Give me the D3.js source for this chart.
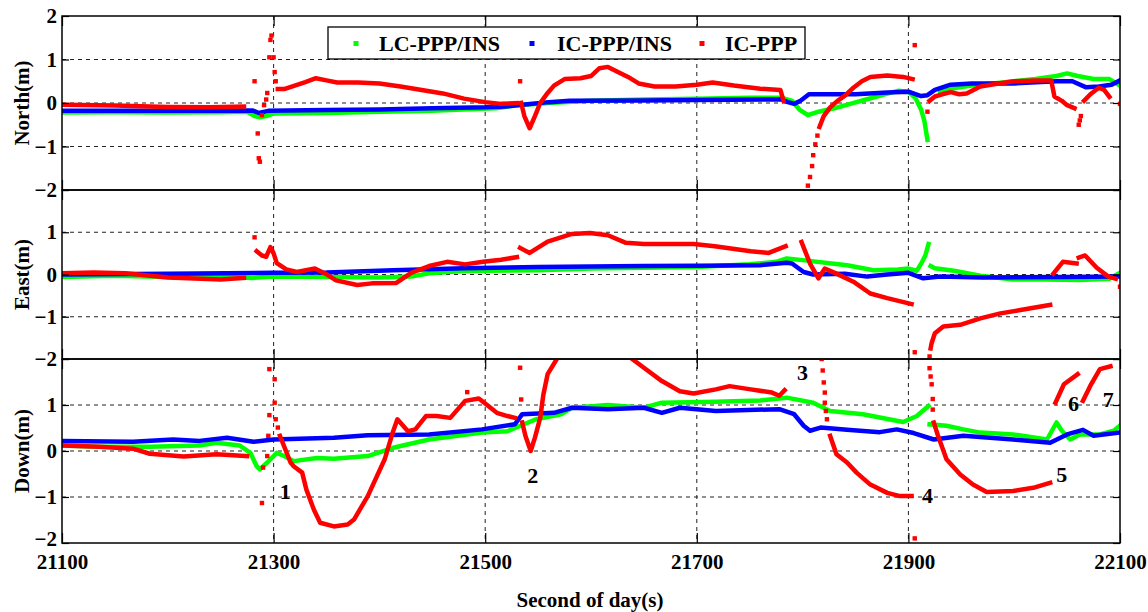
<!DOCTYPE html>
<html><head><meta charset="utf-8">
<script src="https://cdn.jsdelivr.net/npm/d3@7"></script>
<style>body{margin:0;background:#fff}</style>
</head><body><svg id="c" width="1148" height="612"></svg>
<script>
// ---------------- DATA ----------------
const xTicks = [21100, 21300, 21500, 21700, 21900, 22100];
const yTicks = [2, 1, 0, -1, -2];
const gridX = [21300, 21500, 21700, 21900];
const gridY = [1, 0, -1];
const panelTitles = ["North(m)", "East(m)", "Down(m)"];
const seriesNames = ["LC-PPP/INS", "IC-PPP/INS", "IC-PPP"];
const xTitle = "Second of day(s)";

// North
const northLC = [
 [[21100,-0.22],[21150,-0.21],[21200,-0.22],[21250,-0.21],[21275,-0.2],[21282,-0.3],[21287,-0.33],[21293,-0.3],[21300,-0.24],[21350,-0.23],[21400,-0.2],[21450,-0.18],[21490,-0.14],[21510,-0.12],[21530,-0.05],[21560,0.0],[21600,0.05],[21650,0.08],[21700,0.1],[21750,0.12],[21780,0.12],[21790,0.05],[21797,-0.15],[21805,-0.28],[21815,-0.2],[21830,-0.12],[21845,-0.02],[21860,0.08],[21875,0.18],[21890,0.28],[21900,0.26],[21907,0.1],[21912,-0.15],[21915,-0.4],[21918,-0.85]],
 [[21930,0.25],[21945,0.35],[21960,0.4],[21980,0.45],[22000,0.5],[22020,0.55],[22040,0.62],[22050,0.68],[22060,0.62],[22075,0.55],[22090,0.55],[22100,0.4]]
];
const northIC = [
 [[21100,-0.18],[21200,-0.18],[21280,-0.17],[21286,-0.23],[21295,-0.18],[21350,-0.16],[21400,-0.15],[21450,-0.12],[21500,-0.1],[21520,-0.08],[21540,-0.03],[21560,0.02],[21580,0.05],[21650,0.06],[21700,0.07],[21780,0.08],[21786,0.02],[21792,-0.02],[21798,0.05],[21806,0.2],[21850,0.2],[21880,0.24],[21900,0.26],[21912,0.16],[21918,0.18],[21925,0.3],[21940,0.42],[21960,0.45],[22000,0.45],[22040,0.5],[22055,0.5],[22068,0.36],[22080,0.38],[22092,0.42],[22100,0.52]]
];
const northPPP = [
 [[21100,-0.04],[21150,-0.06],[21200,-0.09],[21240,-0.1],[21272,-0.08]],
 [[21304,0.32],[21310,0.32],[21320,0.4],[21330,0.48],[21340,0.57],[21350,0.52],[21360,0.47],[21380,0.47],[21400,0.45],[21420,0.38],[21440,0.3],[21460,0.22],[21480,0.1],[21500,0.02],[21515,-0.02],[21530,0.0]],
 [[21534,0.0],[21537,-0.3],[21542,-0.58],[21547,-0.3],[21552,0.0],[21558,0.2],[21565,0.4],[21575,0.55],[21590,0.57],[21600,0.62],[21608,0.8],[21616,0.83],[21625,0.72],[21635,0.6],[21645,0.45],[21660,0.38],[21680,0.38],[21700,0.42],[21715,0.47],[21735,0.4],[21760,0.33],[21779,0.3],[21782,0.05]],
 [[21816,-0.55],[21820,-0.3],[21826,-0.1],[21833,0.05],[21840,0.17],[21848,0.35],[21856,0.5],[21864,0.6],[21880,0.63],[21895,0.6],[21904,0.55]],
 [[21920,0.05],[21925,0.15],[21932,0.2],[21940,0.25],[21948,0.2],[21955,0.22],[21968,0.38],[21985,0.45],[22000,0.5],[22020,0.52],[22035,0.52],[22038,0.15],[22045,0.05],[22050,-0.05],[22057,-0.12]],
 [[22066,0.05],[22072,0.2],[22080,0.35],[22085,0.3],[22090,0.14]]
];
const northPPPdots = [[21282,0.5],[21286,-1.27],[21287,-1.35],[21285,-0.7],[21289,-0.28],[21291,-0.05],[21293,0.08],[21294,0.23],[21296,1.05],[21297,1.45],[21298,1.55],[21300,1.05],[21301,0.71],[21302,0.5],[21533,0.5],[21805,-1.9],[21807,-1.7],[21809,-1.45],[21810,-1.2],[21812,-0.95],[21814,-0.75],[21906,1.33],[21918,-0.2],[22061,-0.5],[22062,-0.4],[22063,-0.3],[22100,-0.02]];

// East
const eastLC = [
 [[21100,-0.06],[21150,-0.03],[21200,-0.06],[21250,-0.05],[21280,-0.08],[21300,-0.05],[21350,-0.06],[21400,-0.07],[21430,-0.05],[21447,0.03],[21480,0.08],[21550,0.1],[21600,0.14],[21650,0.16],[21700,0.18],[21750,0.24],[21775,0.3],[21785,0.38],[21800,0.34],[21842,0.22],[21867,0.1],[21890,0.12],[21900,0.14],[21908,0.09],[21913,0.3],[21916,0.45],[21919,0.72]],
 [[21921,0.2],[21925,0.15],[21943,0.09],[21968,-0.03],[21999,-0.12],[22030,-0.12],[22062,-0.13],[22090,-0.1],[22100,0.04]]
];
const eastIC = [
 [[21100,0.0],[21200,0.02],[21300,0.04],[21350,0.05],[21413,0.1],[21480,0.15],[21550,0.18],[21650,0.2],[21700,0.21],[21760,0.22],[21785,0.28],[21790,0.26],[21801,0.06],[21810,0.0],[21840,0.02],[21861,-0.05],[21880,0.0],[21900,0.04],[21914,-0.09],[21930,-0.05],[21970,-0.07],[22050,-0.06],[22100,-0.05]]
];
const eastPPP = [
 [[21100,0.03],[21130,0.05],[21160,0.03],[21200,-0.07],[21250,-0.12],[21272,-0.08]],
 [[21284,0.55],[21289,0.45],[21293,0.42],[21297,0.65],[21300,0.5],[21303,0.27],[21312,0.12],[21322,0.06],[21339,0.14],[21349,0.02],[21359,-0.14],[21379,-0.25],[21393,-0.21],[21416,-0.2],[21430,0.04],[21447,0.2],[21464,0.3],[21481,0.24],[21498,0.3],[21515,0.35],[21530,0.41]],
 [[21533,0.63],[21542,0.51],[21559,0.78],[21582,0.96],[21599,0.98],[21616,0.93],[21633,0.75],[21650,0.72],[21697,0.72],[21717,0.67],[21751,0.55],[21768,0.51],[21784,0.67]],
 [[21799,0.77],[21807,0.26],[21815,-0.09],[21821,0.14],[21832,0.02],[21848,-0.17],[21864,-0.45],[21880,-0.56],[21903,-0.7]],
 [[21921,-1.75],[21922,-1.62],[21925,-1.39],[21933,-1.23],[21949,-1.19],[21968,-1.04],[21987,-0.92],[22006,-0.84],[22034,-0.72]],
 [[22037,0.02],[22046,0.3],[22059,0.26]],
 [[22061,0.4],[22067,0.45],[22078,0.16],[22089,-0.05],[22096,-0.1]]
];
const eastPPPdots = [[21282,0.88],[21906,-1.84],[21920,-1.94],[22100,-0.29]];

// Down
const downLC = [
 [[21100,0.12],[21135,0.09],[21183,0.09],[21230,0.12],[21246,0.18],[21268,0.12],[21278,-0.04],[21284,-0.33],[21287,-0.4],[21294,-0.25],[21303,-0.04],[21310,-0.11],[21319,-0.22],[21341,-0.15],[21357,-0.17],[21389,-0.11],[21413,0.07],[21447,0.25],[21497,0.4],[21521,0.43],[21548,0.69],[21572,0.8],[21582,0.94],[21616,1.0],[21650,0.94],[21667,1.05],[21718,1.07],[21760,1.1],[21785,1.16],[21810,1.05],[21826,0.87],[21857,0.8],[21895,0.63],[21908,0.76],[21919,0.98]],
 [[21920,0.58],[21936,0.55],[21952,0.47],[21968,0.4],[21999,0.36],[22031,0.25],[22040,0.62],[22045,0.44],[22053,0.25],[22062,0.36],[22081,0.36],[22094,0.44],[22100,0.55]]
];
const downIC = [
 [[21100,0.22],[21167,0.2],[21205,0.25],[21230,0.22],[21256,0.29],[21281,0.2],[21300,0.25],[21357,0.29],[21389,0.34],[21447,0.36],[21497,0.47],[21528,0.58],[21535,0.8],[21565,0.83],[21582,0.94],[21616,0.91],[21650,0.94],[21667,0.83],[21684,0.94],[21718,0.87],[21778,0.91],[21792,0.8],[21801,0.55],[21807,0.44],[21817,0.51],[21842,0.46],[21873,0.41],[21889,0.47],[21905,0.39],[21924,0.25],[21952,0.33],[21999,0.25],[22034,0.18],[22050,0.36],[22065,0.46],[22075,0.33],[22100,0.4]]
];
const downPPP = [
 [[21100,0.12],[21135,0.09],[21167,0.05],[21183,-0.06],[21215,-0.12],[21246,-0.07],[21275,-0.11]],
 [[21306,0.33],[21316,-0.25],[21319,-0.33],[21327,-0.47],[21331,-0.84],[21338,-1.27],[21344,-1.56],[21357,-1.64],[21370,-1.6],[21376,-1.49],[21389,-0.98],[21405,-0.18],[21413,0.43],[21417,0.69],[21427,0.43],[21434,0.47],[21444,0.76],[21454,0.76],[21467,0.72],[21481,1.09],[21494,1.14],[21511,0.83],[21521,0.76],[21528,0.72]],
 [[21535,0.62],[21538,0.33],[21543,0.0],[21547,0.29],[21552,0.72],[21555,1.23],[21559,1.67],[21569,2.05]],
 [[21636,2.05],[21650,1.81],[21667,1.52],[21684,1.3],[21697,1.25],[21718,1.34],[21731,1.41],[21751,1.34],[21771,1.27],[21778,1.2],[21783,1.32]],
 [[21826,0.33],[21832,-0.07],[21842,-0.25],[21851,-0.47],[21864,-0.73],[21880,-0.91],[21892,-0.98],[21903,-0.98]],
 [[21924,0.62],[21928,0.33],[21936,-0.18],[21949,-0.51],[21961,-0.73],[21974,-0.89],[21999,-0.87],[22018,-0.8],[22034,-0.69]],
 [[22039,1.05],[22047,1.45],[22060,1.67]],
 [[22065,1.09],[22072,1.42],[22081,1.78],[22091,1.84]]
];
const downPPPdots = [[21289,-1.13],[21290,-0.36],[21294,-0.11],[21295,0.33],[21296,0.78],[21296,1.78],[21301,1.56],[21301,1.05],[21302,0.69],[21304,0.51],[21483,1.28],[21533,1.81],[21534,1.12],[21818,2.0],[21819,1.75],[21820,1.49],[21821,1.27],[21821,1.05],[21822,0.87],[21823,0.69],[21906,-1.9],[21920,1.8],[21921,1.62],[21922,1.45],[21923,1.13],[21923,0.9]];

// Event labels in the Down panel
const eventLabels = ["1","2","3","4","5","6","7"];
const eventT = [21311, 21545, 21800, 21918, 22045, 22056, 22089];
const eventV = [-0.89, -0.54, 1.7, -0.96, -0.52, 1.04, 1.11];

// ---------------- DRAW ----------------
const colors = ["#00ff00", "#0000ff", "#ff0000"];
const FONT = '"Liberation Serif","Times New Roman",serif';
const svg = d3.select("#c");
const x = d3.scaleLinear().domain([21100, 22100]).range([62, 1120]);
const panelPix = [[16, 190], [190, 359], [359, 543]];
const panelData = [
  {lines: [northLC, northIC, northPPP], dots: northPPPdots},
  {lines: [eastLC, eastIC, eastPPP], dots: eastPPPdots},
  {lines: [downLC, downIC, downPPP], dots: downPPPdots}
];

panelData.forEach((pd, i) => {
  const [top, bot] = panelPix[i];
  const y = d3.scaleLinear().domain([-2, 2]).range([bot, top]);
  const g = svg.append("g");
  const cid = "clip" + i;
  svg.append("clipPath").attr("id", cid).append("rect")
    .attr("x", x.range()[0]).attr("y", top).attr("width", x.range()[1] - x.range()[0]).attr("height", bot - top);

  // grid
  const grid = g.append("g").attr("stroke", "#222").attr("stroke-width", 1).attr("stroke-dasharray", "4,4");
  grid.selectAll("line.h").data(gridY).join("line")
    .attr("x1", x.range()[0]).attr("x2", x.range()[1]).attr("y1", d => y(d)).attr("y2", d => y(d));
  grid.selectAll("line.v").data(gridX).join("line")
    .attr("x1", d => x(d)).attr("x2", d => x(d)).attr("y1", top).attr("y2", bot);

  // series
  const plot = g.append("g").attr("clip-path", `url(#${cid})`);
  const line = d3.line().x(d => x(d[0])).y(d => y(d[1]));
  pd.lines.forEach((segs, s) => {
    plot.append("g").selectAll("path").data(segs).join("path")
      .attr("d", line).attr("fill", "none").attr("stroke", colors[s])
      .attr("stroke-width", 4.5).attr("stroke-linejoin", "round").attr("stroke-linecap", "square");
  });
  plot.append("g").selectAll("rect").data(pd.dots).join("rect")
    .attr("x", d => x(d[0]) - 2.2).attr("y", d => y(d[1]) - 2.2)
    .attr("width", 4.4).attr("height", 4.4).attr("fill", colors[2]);

  // axes
  const styleAxis = sel => {
    sel.select(".domain").remove();
    sel.selectAll(".tick line").attr("stroke", "#000").attr("stroke-width", 1.2);
    sel.selectAll("text").attr("font-family", FONT).attr("font-size", 21).attr("font-weight", "bold").attr("fill", "#000");
  };
  // the top label "2" of the lower panels sits under the "-2" of the panel above
  const yFmt = d => (i > 0 && d === 2) ? "" : d3.format("d")(d);
  const yAx = g.append("g").attr("transform", `translate(${x.range()[0]},0)`)
    .call(d3.axisLeft(y).tickValues(yTicks).tickSize(-7).tickPadding(5).tickFormat(yFmt))
    .call(styleAxis);
  if (i === 2) {
    yAx.selectAll(".tick text").filter(d => d === -2).attr("y", -4);
  }
  g.append("g").attr("transform", `translate(${x.range()[1]},0)`)
    .call(d3.axisRight(y).tickValues(yTicks).tickSize(-7).tickFormat(""))
    .call(styleAxis);
  g.append("g").attr("transform", `translate(0,${top})`)
    .call(d3.axisTop(x).tickValues(xTicks).tickSize(-10).tickFormat(""))
    .call(styleAxis);
  g.append("g").attr("transform", `translate(0,${bot})`)
    .call(d3.axisBottom(x).tickValues(xTicks).tickSize(-10).tickPadding(11)
      .tickFormat(i === 2 ? d3.format("d") : ""))
    .call(styleAxis);

  // frame
  g.append("rect").attr("x", x.range()[0]).attr("y", top)
    .attr("width", x.range()[1] - x.range()[0]).attr("height", bot - top)
    .attr("fill", "none").attr("stroke", "#000").attr("stroke-width", 1.5);

  // y title
  svg.append("text").attr("transform", `translate(22,${(top + bot) / 2}) rotate(-90)`)
    .attr("text-anchor", "middle").attr("dominant-baseline", "central")
    .attr("font-family", FONT).attr("font-size", 21).attr("font-weight", "bold")
    .text(panelTitles[i]);

  if (i === 2) {
    svg.append("g").selectAll("text").data(eventLabels).join("text")
      .attr("x", (d, k) => x(eventT[k])).attr("y", (d, k) => y(eventV[k]))
      .attr("text-anchor", "middle").attr("dominant-baseline", "central")
      .attr("font-family", FONT).attr("font-size", 22).attr("font-weight", "bold")
      .text(d => d);
  }
});

// x title
svg.append("text").attr("x", 590).attr("y", 607).attr("text-anchor", "middle")
  .attr("font-family", FONT).attr("font-size", 21).attr("font-weight", "bold").text(xTitle);

// legend
const lg = svg.append("g");
lg.append("rect").attr("x", 328).attr("y", 27).attr("width", 477).attr("height", 32)
  .attr("fill", "#fff").attr("stroke", "#000").attr("stroke-width", 1.3);
const legMarkX = [356, 532, 702];
const legTextX = [379, 557, 725];
seriesNames.forEach((n, k) => {
  lg.append("rect").attr("x", legMarkX[k] - 2.5).attr("y", 41).attr("width", 5).attr("height", 5).attr("fill", colors[k]);
  lg.append("text").attr("x", legTextX[k]).attr("y", 50.5)
    .attr("font-family", FONT).attr("font-size", 22).attr("font-weight", "bold").text(n);
});
</script></body></html>
